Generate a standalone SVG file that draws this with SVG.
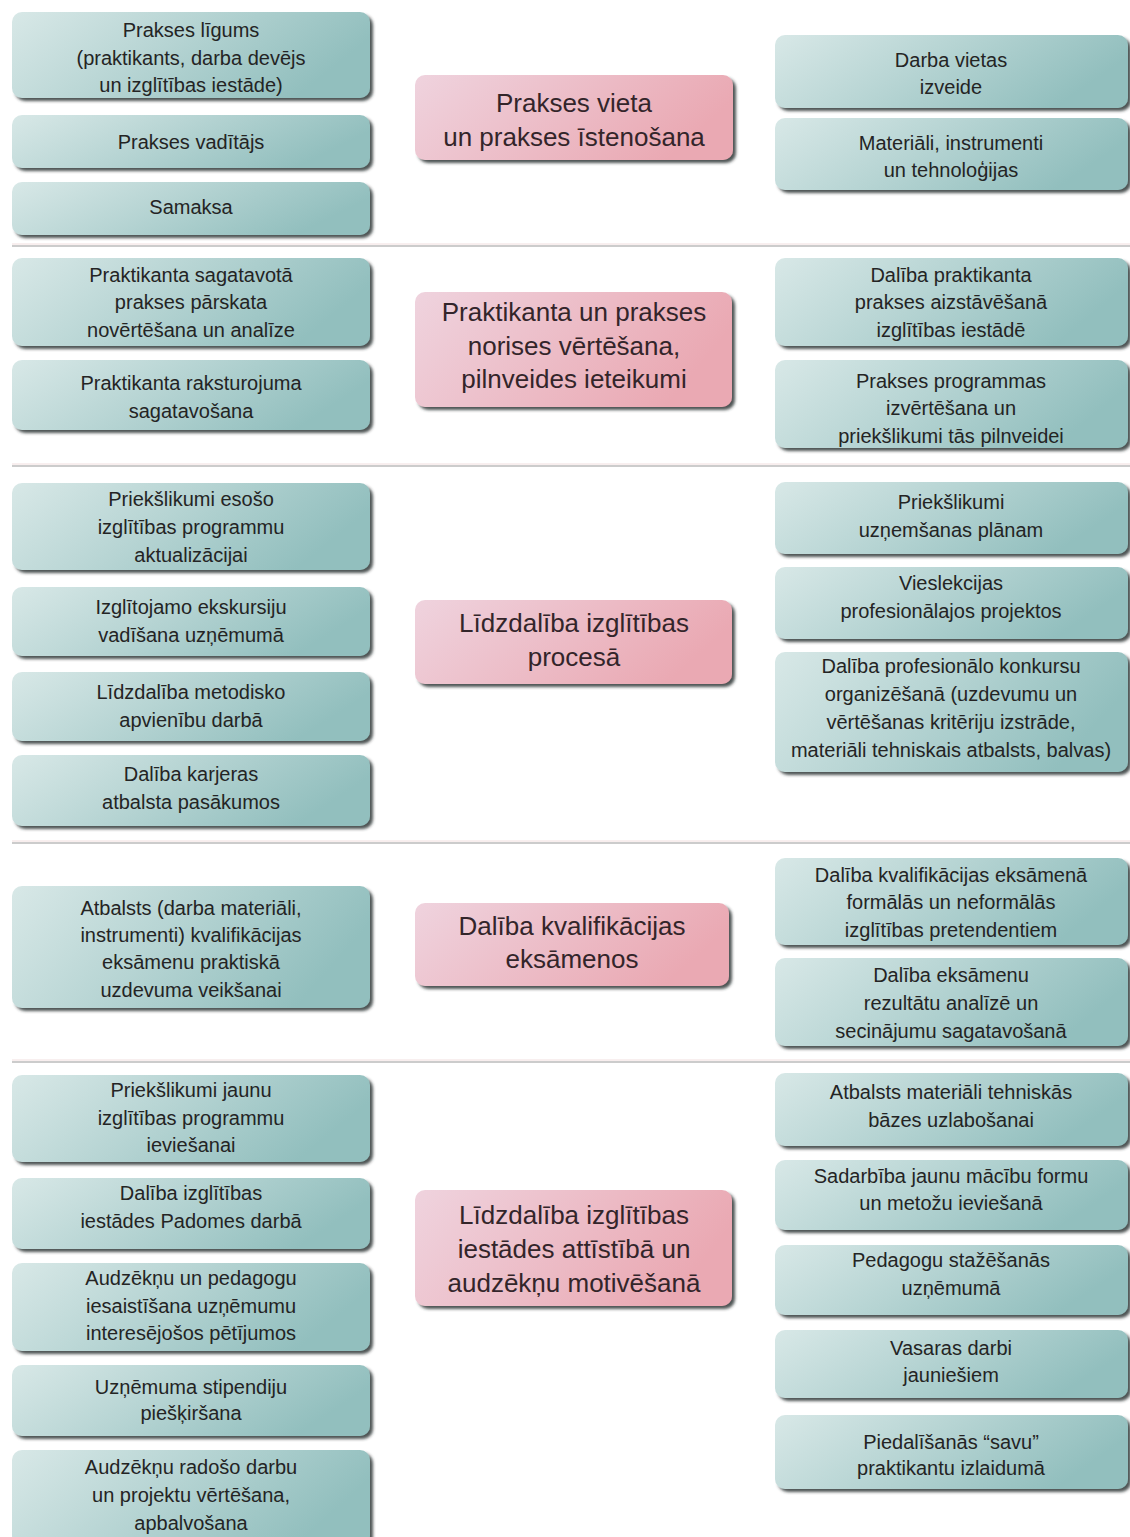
<svg xmlns="http://www.w3.org/2000/svg" width="1130" height="1537" viewBox="0 0 1130 1537">
<style>
.t{font-family:"Liberation Sans","Arial",sans-serif;font-size:20px;fill:#242424;text-anchor:middle;dominant-baseline:central}
.c{font-family:"Liberation Sans","Arial",sans-serif;font-size:26px;fill:#33252a;text-anchor:middle;dominant-baseline:central}
.b{fill:url(#teal);filter:url(#sh)}
.p{fill:url(#pink);filter:url(#sh)}
.sep{stroke:#cccccc;stroke-width:2}
.sep2{stroke:#f1dede;stroke-width:1}
</style>
<defs>
<linearGradient id="teal" x1="0" y1="0" x2="1" y2="0.3">
<stop offset="0" stop-color="#d8e8e7"/>
<stop offset="0.5" stop-color="#b6d4d3"/>
<stop offset="1" stop-color="#92bfbe"/>
</linearGradient>
<linearGradient id="pink" x1="0" y1="0" x2="1" y2="0.3">
<stop offset="0" stop-color="#efd3de"/>
<stop offset="1" stop-color="#eaa9b3"/>
</linearGradient>
<filter id="sh" x="-5%" y="-10%" width="115%" height="130%">
<feDropShadow dx="3" dy="3" stdDeviation="1.8" flood-color="#2e3636" flood-opacity="0.85"/>
</filter>
</defs>
<rect width="1130" height="1537" fill="#ffffff"/>

<g id="separators">
<line class="sep2" x1="12" y1="244" x2="1130" y2="244"/><line class="sep" x1="12" y1="246" x2="1130" y2="246"/>
<line class="sep2" x1="12" y1="464" x2="1130" y2="464"/><line class="sep" x1="12" y1="466" x2="1130" y2="466"/>
<line class="sep2" x1="12" y1="841" x2="1130" y2="841"/><line class="sep" x1="12" y1="843" x2="1130" y2="843"/>
<line class="sep2" x1="12" y1="1060" x2="1130" y2="1060"/><line class="sep" x1="12" y1="1062" x2="1130" y2="1062"/>
</g>

<!-- Section 1 -->
<g id="s1-l1"><rect class="b" x="12" y="12" width="358" height="86" rx="10"/>
<text class="t" x="191" y="30">Prakses līgums</text><text class="t" x="191" y="58">(praktikants, darba devējs</text><text class="t" x="191" y="85">un izglītības iestāde)</text></g>
<g id="s1-l2"><rect class="b" x="12" y="115" width="358" height="53" rx="10"/>
<text class="t" x="191" y="142">Prakses vadītājs</text></g>
<g id="s1-l3"><rect class="b" x="12" y="182" width="358" height="53" rx="10"/>
<text class="t" x="191" y="207">Samaksa</text></g>
<g id="s1-c"><rect class="p" x="415" y="75" width="318" height="85" rx="10"/>
<text class="c" x="574" y="103">Prakses vieta</text><text class="c" x="574" y="137">un prakses īstenošana</text></g>
<g id="s1-r1"><rect class="b" x="775" y="35" width="353" height="73" rx="10"/>
<text class="t" x="951" y="60">Darba vietas</text><text class="t" x="951" y="87">izveide</text></g>
<g id="s1-r2"><rect class="b" x="775" y="118" width="353" height="72" rx="10"/>
<text class="t" x="951" y="143">Materiāli, instrumenti</text><text class="t" x="951" y="170">un tehnoloģijas</text></g>

<!-- Section 2 -->
<g id="s2-l1"><rect class="b" x="12" y="258" width="358" height="88" rx="10"/>
<text class="t" x="191" y="275">Praktikanta sagatavotā</text><text class="t" x="191" y="302">prakses pārskata</text><text class="t" x="191" y="330">novērtēšana un analīze</text></g>
<g id="s2-l2"><rect class="b" x="12" y="360" width="358" height="70" rx="10"/>
<text class="t" x="191" y="383">Praktikanta raksturojuma</text><text class="t" x="191" y="411">sagatavošana</text></g>
<g id="s2-c"><rect class="p" x="415" y="292" width="317" height="115" rx="10"/>
<text class="c" x="574" y="312">Praktikanta un prakses</text><text class="c" x="574" y="346">norises vērtēšana,</text><text class="c" x="574" y="379">pilnveides ieteikumi</text></g>
<g id="s2-r1"><rect class="b" x="775" y="258" width="353" height="88" rx="10"/>
<text class="t" x="951" y="275">Dalība praktikanta</text><text class="t" x="951" y="302">prakses aizstāvēšanā</text><text class="t" x="951" y="330">izglītības iestādē</text></g>
<g id="s2-r2"><rect class="b" x="775" y="360" width="353" height="88" rx="10"/>
<text class="t" x="951" y="381">Prakses programmas</text><text class="t" x="951" y="408">izvērtēšana un</text><text class="t" x="951" y="436">priekšlikumi tās pilnveidei</text></g>

<!-- Section 3 -->
<g id="s3-l1"><rect class="b" x="12" y="483" width="358" height="87" rx="10"/>
<text class="t" x="191" y="499">Priekšlikumi esošo</text><text class="t" x="191" y="527">izglītības programmu</text><text class="t" x="191" y="555">aktualizācijai</text></g>
<g id="s3-l2"><rect class="b" x="12" y="587" width="358" height="69" rx="10"/>
<text class="t" x="191" y="607">Izglītojamo ekskursiju</text><text class="t" x="191" y="635">vadīšana uzņēmumā</text></g>
<g id="s3-l3"><rect class="b" x="12" y="672" width="358" height="69" rx="10"/>
<text class="t" x="191" y="692">Līdzdalība metodisko</text><text class="t" x="191" y="720">apvienību darbā</text></g>
<g id="s3-l4"><rect class="b" x="12" y="755" width="358" height="71" rx="10"/>
<text class="t" x="191" y="774">Dalība karjeras</text><text class="t" x="191" y="802">atbalsta pasākumos</text></g>
<g id="s3-c"><rect class="p" x="415" y="600" width="317" height="84" rx="10"/>
<text class="c" x="574" y="623">Līdzdalība izglītības</text><text class="c" x="574" y="657">procesā</text></g>
<g id="s3-r1"><rect class="b" x="775" y="482" width="353" height="72" rx="10"/>
<text class="t" x="951" y="502">Priekšlikumi</text><text class="t" x="951" y="530">uzņemšanas plānam</text></g>
<g id="s3-r2"><rect class="b" x="775" y="567" width="353" height="72" rx="10"/>
<text class="t" x="951" y="583">Vieslekcijas</text><text class="t" x="951" y="611">profesionālajos projektos</text></g>
<g id="s3-r3"><rect class="b" x="775" y="652" width="353" height="120" rx="10"/>
<text class="t" x="951" y="666">Dalība profesionālo konkursu</text><text class="t" x="951" y="694">organizēšanā (uzdevumu un</text><text class="t" x="951" y="722">vērtēšanas kritēriju izstrāde,</text><text class="t" x="951" y="750">materiāli tehniskais atbalsts, balvas)</text></g>

<!-- Section 4 -->
<g id="s4-l1"><rect class="b" x="12" y="886" width="358" height="122" rx="10"/>
<text class="t" x="191" y="908">Atbalsts (darba materiāli,</text><text class="t" x="191" y="935">instrumenti) kvalifikācijas</text><text class="t" x="191" y="962">eksāmenu praktiskā</text><text class="t" x="191" y="990">uzdevuma veikšanai</text></g>
<g id="s4-c"><rect class="p" x="415" y="903" width="314" height="83" rx="10"/>
<text class="c" x="572" y="926">Dalība kvalifikācijas</text><text class="c" x="572" y="959">eksāmenos</text></g>
<g id="s4-r1"><rect class="b" x="775" y="858" width="353" height="87" rx="10"/>
<text class="t" x="951" y="875">Dalība kvalifikācijas eksāmenā</text><text class="t" x="951" y="902">formālās un neformālās</text><text class="t" x="951" y="930">izglītības pretendentiem</text></g>
<g id="s4-r2"><rect class="b" x="775" y="958" width="353" height="88" rx="10"/>
<text class="t" x="951" y="975">Dalība eksāmenu</text><text class="t" x="951" y="1003">rezultātu analīzē un</text><text class="t" x="951" y="1031">secinājumu sagatavošanā</text></g>

<!-- Section 5 -->
<g id="s5-l1"><rect class="b" x="12" y="1075" width="358" height="87" rx="10"/>
<text class="t" x="191" y="1090">Priekšlikumi jaunu</text><text class="t" x="191" y="1118">izglītības programmu</text><text class="t" x="191" y="1145">ieviešanai</text></g>
<g id="s5-l2"><rect class="b" x="12" y="1178" width="358" height="71" rx="10"/>
<text class="t" x="191" y="1193">Dalība izglītības</text><text class="t" x="191" y="1221">iestādes Padomes darbā</text></g>
<g id="s5-l3"><rect class="b" x="12" y="1263" width="358" height="88" rx="10"/>
<text class="t" x="191" y="1278">Audzēkņu un pedagogu</text><text class="t" x="191" y="1306">iesaistīšana uzņēmumu</text><text class="t" x="191" y="1333">interesējošos pētījumos</text></g>
<g id="s5-l4"><rect class="b" x="12" y="1365" width="358" height="71" rx="10"/>
<text class="t" x="191" y="1387">Uzņēmuma stipendiju</text><text class="t" x="191" y="1413">piešķiršana</text></g>
<g id="s5-l5"><rect class="b" x="12" y="1450" width="358" height="96" rx="10"/>
<text class="t" x="191" y="1467">Audzēkņu radošo darbu</text><text class="t" x="191" y="1495">un projektu vērtēšana,</text><text class="t" x="191" y="1523">apbalvošana</text></g>
<g id="s5-c"><rect class="p" x="415" y="1190" width="317" height="116" rx="10"/>
<text class="c" x="574" y="1215">Līdzdalība izglītības</text><text class="c" x="574" y="1249">iestādes attīstībā un</text><text class="c" x="574" y="1283">audzēkņu motivēšanā</text></g>
<g id="s5-r1"><rect class="b" x="775" y="1073" width="353" height="73" rx="10"/>
<text class="t" x="951" y="1092">Atbalsts materiāli tehniskās</text><text class="t" x="951" y="1120">bāzes uzlabošanai</text></g>
<g id="s5-r2"><rect class="b" x="775" y="1160" width="353" height="70" rx="10"/>
<text class="t" x="951" y="1176">Sadarbība jaunu mācību formu</text><text class="t" x="951" y="1203">un metožu ieviešanā</text></g>
<g id="s5-r3"><rect class="b" x="775" y="1245" width="353" height="70" rx="10"/>
<text class="t" x="951" y="1260">Pedagogu stažēšanās</text><text class="t" x="951" y="1288">uzņēmumā</text></g>
<g id="s5-r4"><rect class="b" x="775" y="1330" width="353" height="68" rx="10"/>
<text class="t" x="951" y="1348">Vasaras darbi</text><text class="t" x="951" y="1375">jauniešiem</text></g>
<g id="s5-r5"><rect class="b" x="775" y="1415" width="353" height="74" rx="10"/>
<text class="t" x="951" y="1442">Piedalīšanās “savu”</text><text class="t" x="951" y="1468">praktikantu izlaidumā</text></g>

<g id="connectors"></g>
</svg>
